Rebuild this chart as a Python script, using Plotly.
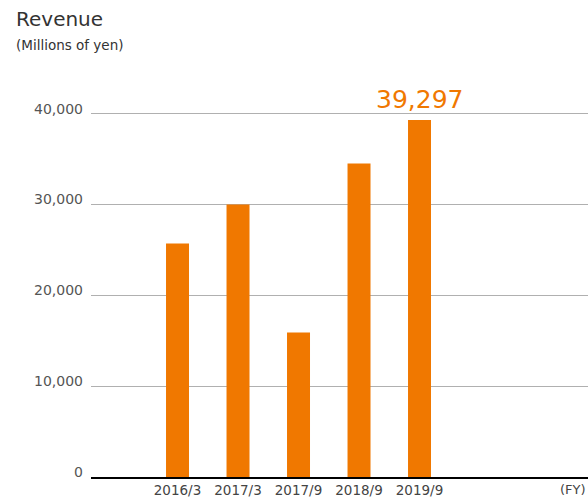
import plotly.graph_objects as go

categories = ["2016/3", "2017/3", "2017/9", "2018/9", "2019/9"]
revenue = [25700, 30000, 15900, 34500, 39297]
y_ticks = [0, 10000, 20000, 30000, 40000]
y_tick_labels = ["0", "10,000", "20,000", "30,000", "40,000"]
highlight_label = "39,297"
title_text = "Revenue"
subtitle_text = "(Millions of yen)"
fy_text = "(FY)"

ORANGE = "#F07800"
FONT = "DejaVu Sans"
W, H = 588, 502
L, T, B = 91, 110, 25
Y_TOP = 40400

fig = go.Figure()
fig.add_trace(go.Bar(
    x=categories, y=revenue, marker=dict(color=ORANGE, line=dict(width=0)),
    width=0.38, hoverinfo="skip", cliponaxis=False,
))

fig.add_annotation(
    x=categories[-1], y=revenue[-1], xref="x", yref="y",
    text=highlight_label, showarrow=False, yanchor="bottom", yshift=4,
    font=dict(family=FONT, size=25, color=ORANGE),
)
fig.add_annotation(
    x=1, y=0, xref="paper", yref="paper", text=fy_text, showarrow=False,
    xanchor="right", yanchor="top", yshift=-3, xshift=0,
    font=dict(family=FONT, size=13, color="#444"),
)

plot_h = H - T - B
plot_w = W - L


def to_paper(px_x, px_y):
    return (px_x - L) / plot_w, (H - B - px_y) / plot_h


tx, ty = to_paper(14, 19)
fig.add_annotation(
    x=tx, y=ty, xref="paper", yref="paper", text=title_text,
    showarrow=False, xanchor="left", yanchor="middle",
    font=dict(family=FONT, size=20, color="#333"),
)
sx, sy = to_paper(14, 45)
fig.add_annotation(
    x=sx, y=sy, xref="paper", yref="paper", text=subtitle_text,
    showarrow=False, xanchor="left", yanchor="middle",
    font=dict(family=FONT, size=13.5, color="#333"),
)

fig.update_layout(
    width=W, height=H,
    margin=dict(l=L, r=0, t=T, b=B),
    paper_bgcolor="white", plot_bgcolor="white",
    showlegend=False,
    font=dict(family=FONT, color="#444"),
)
fig.update_xaxes(
    type="category", range=[-1.43, 6.785], showgrid=False,
    showline=True, linecolor="#000", linewidth=1.5,
    ticks="", tickfont=dict(family=FONT, size=13.5, color="#444"),
)
fig.update_yaxes(
    range=[0, Y_TOP], tickvals=y_ticks, ticktext=y_tick_labels,
    showgrid=True, gridcolor="#b0b0b0", gridwidth=1,
    zeroline=False, showline=False, ticks="",
    tickfont=dict(family=FONT, size=14, color="#555"),
    ticklabelshift=-5, ticklabelstandoff=7,
)

fig.write_html(
    "out.html",
    config={"displayModeBar": False},
    post_script="document.body.style.margin='0';document.body.style.overflow='hidden';",
)
